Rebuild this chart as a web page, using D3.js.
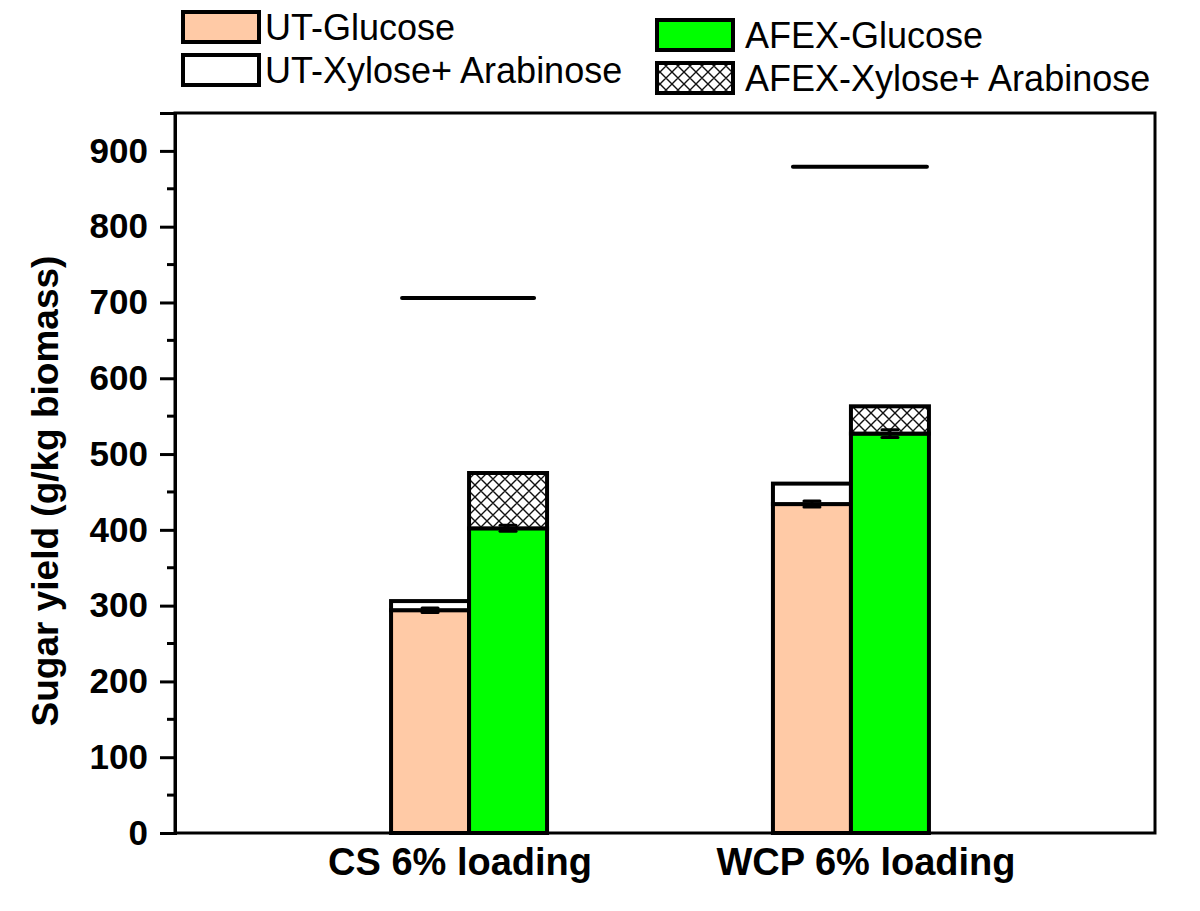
<!DOCTYPE html>
<html>
<head>
<meta charset="utf-8">
<script src="https://cdn.jsdelivr.net/npm/d3@7"></script>
<style>
  body { margin: 0; background: #fff; }
  svg { font-family: "Liberation Sans", Arial, sans-serif; }
</style>
</head>
<body>
<div id="chart"></div>
<script>
// Data
var categories = ["CS 6% loading", "WCP 6% loading"];
var utGlucose = [294, 434];
var utXylAra = [12, 27];          // stacked on top of UT glucose
var afexGlucose = [402, 527];
var afexXylAra = [73, 36];        // stacked on top of AFEX glucose
var utGlucoseErr = [3, 4];
var afexGlucoseErr = [4, 5];
var theoryMax = [706, 879];       // horizontal reference lines
var yTicks = [0, 100, 200, 300, 400, 500, 600, 700, 800, 900];

var legendItems = [
    {label: "UT-Glucose", fill: "#ffcaa6", col: 0, row: 0},
    {label: "UT-Xylose+ Arabinose", fill: "#ffffff", col: 0, row: 1},
    {label: "AFEX-Glucose", fill: "#00ff00", col: 1, row: 0},
    {label: "AFEX-Xylose+ Arabinose", fill: "url(#hatch)", col: 1, row: 1}
];

var W = 1200, H = 911;
var margin = {left: 175, right: 45, top: 113, bottom: 78};
var plotW = W - margin.left - margin.right;
var plotH = H - margin.top - margin.bottom;

var svg = d3.select("#chart").append("svg")
    .attr("width", W)
    .attr("height", H);

// Crosshatch pattern
var defs = svg.append("defs");
var pat = defs.append("pattern")
    .attr("id", "hatch")
    .attr("patternUnits", "userSpaceOnUse")
    .attr("width", 12)
    .attr("height", 12);
pat.append("rect").attr("width", 12).attr("height", 12).attr("fill", "#fff");
pat.append("path")
    .attr("d", "M0,0 L12,12 M12,0 L0,12 M-6,6 L6,18 M6,-6 L18,6 M6,18 L18,6 M-6,6 L6,-6")
    .attr("stroke", "#111")
    .attr("stroke-width", 1.4);

var g = svg.append("g")
    .attr("transform", "translate(" + margin.left + "," + margin.top + ")");

// Scales
var x = d3.scalePoint()
    .domain(categories)
    .range([0, plotW - 10])
    .padding(0.77);

var y = d3.scaleLinear()
    .domain([0, 950])
    .range([plotH, 0]);

var barW = 78;

// Bars
var groups = g.selectAll(".grp")
    .data(categories)
    .enter().append("g")
    .attr("class", "grp");

function addBar(dx, lo, hi, fill) {
    groups.append("rect")
        .attr("x", function(d) { return x(d) + dx; })
        .attr("y", function(d, i) { return y(hi[i]); })
        .attr("width", barW)
        .attr("height", function(d, i) { return y(lo[i]) - y(hi[i]); })
        .attr("fill", fill)
        .attr("stroke", "#000")
        .attr("stroke-width", 4);
}

var zeros = categories.map(function() { return 0; });
var utTop = utGlucose.map(function(v, i) { return v + utXylAra[i]; });
var afexTop = afexGlucose.map(function(v, i) { return v + afexXylAra[i]; });

addBar(-barW, zeros, utGlucose, "#ffcaa6");
addBar(-barW, utGlucose, utTop, "#ffffff");
addBar(0, zeros, afexGlucose, "#00ff00");
addBar(0, afexGlucose, afexTop, "url(#hatch)");

// Error bars
function addErr(dx, vals, errs) {
    var eg = groups.append("g");
    eg.append("line")
        .attr("x1", function(d) { return x(d) + dx; })
        .attr("x2", function(d) { return x(d) + dx; })
        .attr("y1", function(d, i) { return y(vals[i] - errs[i]); })
        .attr("y2", function(d, i) { return y(vals[i] + errs[i]); })
        .attr("stroke", "#000").attr("stroke-width", 3);
    [-1, 1].forEach(function(s) {
        eg.append("line")
            .attr("x1", function(d) { return x(d) + dx - 8; })
            .attr("x2", function(d) { return x(d) + dx + 8; })
            .attr("y1", function(d, i) { return y(vals[i] + s * errs[i]); })
            .attr("y2", function(d, i) { return y(vals[i] + s * errs[i]); })
            .attr("stroke", "#000").attr("stroke-width", 3)
            .attr("stroke-linecap", "round");
    });
}
addErr(-barW / 2, utGlucose, utGlucoseErr);
addErr(barW / 2, afexGlucose, afexGlucoseErr);

// Theoretical maximum lines
groups.append("line")
    .attr("x1", function(d, i) { return x(d) - (i === 0 ? 67 : 58); })
    .attr("x2", function(d, i) { return x(d) + (i === 0 ? 65 : 76); })
    .attr("y1", function(d, i) { return y(theoryMax[i]); })
    .attr("y2", function(d, i) { return y(theoryMax[i]); })
    .attr("stroke", "#000")
    .attr("stroke-width", 4)
    .attr("stroke-linecap", "round");

// Frame
g.append("rect")
    .attr("x", 0).attr("y", 0)
    .attr("width", plotW).attr("height", plotH)
    .attr("fill", "none")
    .attr("stroke", "#000")
    .attr("stroke-width", 3);

// Y axis
var yAxis = d3.axisLeft(y)
    .tickValues(yTicks)
    .tickSize(15)
    .tickPadding(12);
var ya = g.append("g").call(yAxis);
ya.select(".domain").attr("stroke-width", 3);
ya.selectAll(".tick line").attr("stroke-width", 3);
ya.selectAll(".tick text")
    .attr("font-size", 35)
    .attr("font-weight", "bold")
    .attr("fill", "#000")
    .attr("font-family", "'Liberation Sans', Arial, sans-serif");

// Minor ticks
var minor = d3.range(50, 950, 100);
g.selectAll(".minor")
    .data(minor)
    .enter().append("line")
    .attr("x1", -8).attr("x2", 0)
    .attr("y1", function(d) { return y(d); })
    .attr("y2", function(d) { return y(d); })
    .attr("stroke", "#000")
    .attr("stroke-width", 3);

// X labels
g.selectAll(".xlab")
    .data(categories)
    .enter().append("text")
    .attr("x", function(d, i) { return x(d) + (i === 0 ? -9 : 15); })
    .attr("y", plotH + 42)
    .attr("text-anchor", "middle")
    .attr("font-size", 38)
    .attr("font-weight", "bold")
    .text(function(d) { return d; });

// Y label
svg.append("text")
    .attr("transform", "translate(58," + 491 + ") rotate(-90)")
    .attr("text-anchor", "middle")
    .attr("font-size", 37)
    .attr("font-weight", "bold")
    .text("Sugar yield (g/kg biomass)");

// Legend
var lg = svg.append("g");
var colX = [183, 657], colY = [[12, 55], [20, 63]];
legendItems.forEach(function(d) {
    var bx = colX[d.col], by = colY[d.col][d.row];
    lg.append("rect")
        .attr("x", bx).attr("y", by)
        .attr("width", 76).attr("height", 30)
        .attr("fill", d.fill)
        .attr("stroke", "#000")
        .attr("stroke-width", 4);
    lg.append("text")
        .attr("x", bx + (d.col === 0 ? 82 : 88))
        .attr("y", by + 28)
        .attr("font-size", 36)
        .text(d.label);
});
</script>
</body>
</html>
